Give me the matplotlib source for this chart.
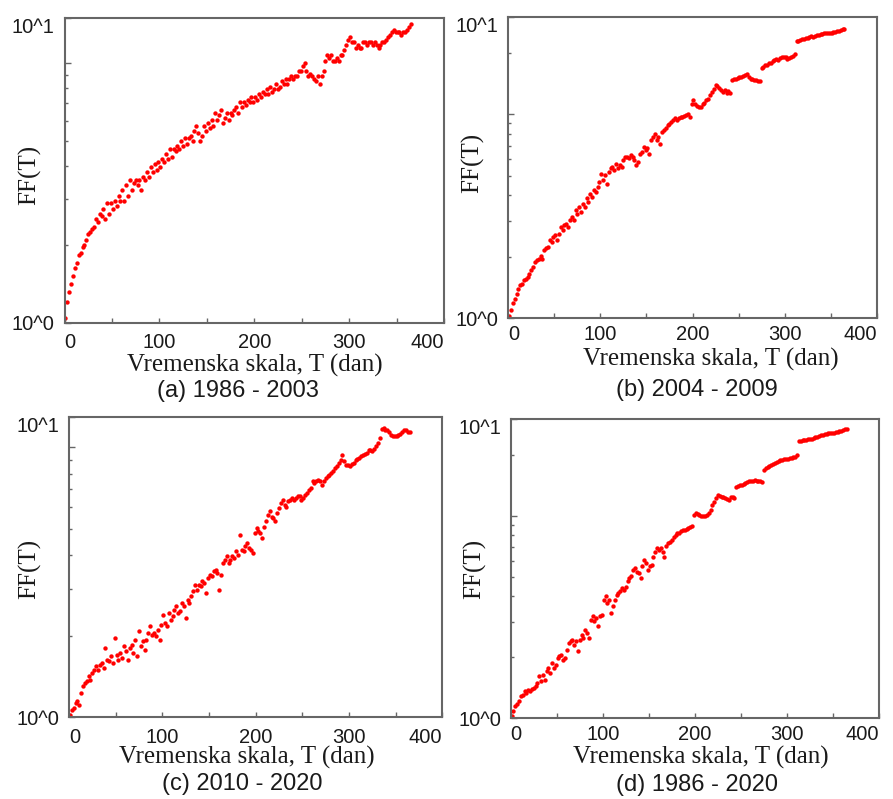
import numpy as np
import matplotlib
matplotlib.use("Agg")
import matplotlib.pyplot as plt
from matplotlib.ticker import FixedLocator, LogLocator, NullFormatter, MultipleLocator

# log10 FF(T), one value every second day (T = 1, 3, 5, ..., 365)
log_ff_a = [
    0.02, 0.08, 0.12, 0.15, 0.18, 0.21, 0.23, 0.26, 0.27, 0.29,
    0.30, 0.32, 0.34, 0.35, 0.36, 0.37, 0.40, 0.39, 0.42, 0.41,
    0.44, 0.40, 0.46, 0.42, 0.46, 0.44, 0.47, 0.45, 0.49, 0.47,
    0.51, 0.47, 0.53, 0.49, 0.55, 0.51, 0.54, 0.55, 0.53, 0.55,
    0.51, 0.56, 0.55, 0.58, 0.56, 0.60, 0.58, 0.61, 0.59, 0.62,
    0.60, 0.63, 0.62, 0.65, 0.63, 0.67, 0.64, 0.67, 0.66, 0.68,
    0.67, 0.70, 0.68, 0.71, 0.69, 0.71, 0.72, 0.70, 0.74, 0.76,
    0.73, 0.70, 0.72, 0.76, 0.74, 0.77, 0.75, 0.78, 0.76, 0.81,
    0.78, 0.80, 0.82, 0.77, 0.79, 0.81, 0.78, 0.81, 0.80, 0.82,
    0.83, 0.81, 0.85, 0.83, 0.85, 0.84, 0.86, 0.85, 0.87, 0.85,
    0.87, 0.86, 0.88, 0.87, 0.89, 0.88, 0.90, 0.88, 0.91, 0.89,
    0.90, 0.92, 0.90, 0.91, 0.93, 0.92, 0.94, 0.92, 0.94, 0.95,
    0.94, 0.95, 0.95, 0.97, 0.97, 0.99, 1.00, 0.97, 0.95, 0.96,
    0.95, 0.94, 0.93, 0.95, 0.92, 0.95, 0.97, 1.01, 1.03, 1.02,
    1.03, 1.01, 1.01, 1.02, 1.01, 1.03, 1.03, 1.05, 1.07, 1.09,
    1.10, 1.08, 1.08, 1.06, 1.07, 1.06, 1.06, 1.08, 1.08, 1.07,
    1.08, 1.08, 1.07, 1.08, 1.07, 1.06, 1.07, 1.08, 1.08, 1.09,
    1.10, 1.11, 1.12, 1.13, 1.12, 1.12, 1.12, 1.11, 1.12, 1.12,
    1.13, 1.14, 1.15,
]
log_ff_b = [
    0.010, 0.040, 0.075, 0.096, 0.121, 0.145, 0.162, 0.170, 0.186, 0.194,
    0.203, 0.219, 0.235, 0.252, 0.276, 0.284, 0.292, 0.304, 0.292, 0.333,
    0.342, 0.350, 0.382, 0.374, 0.399, 0.407, 0.382, 0.415, 0.448, 0.431,
    0.456, 0.464, 0.448, 0.480, 0.497, 0.480, 0.529, 0.513, 0.546, 0.521,
    0.562, 0.546, 0.587, 0.570, 0.611, 0.595, 0.627, 0.619, 0.644, 0.668,
    0.709, 0.676, 0.701, 0.660, 0.717, 0.734, 0.742, 0.725, 0.758, 0.734,
    0.750, 0.742, 0.775, 0.791, 0.791, 0.783, 0.799, 0.791, 0.775, 0.750,
    0.766, 0.807, 0.815, 0.840, 0.823, 0.832, 0.807, 0.873, 0.889, 0.905,
    0.873, 0.889, 0.856, 0.913, 0.922, 0.930, 0.946, 0.954, 0.962, 0.971,
    0.979, 0.971, 0.979, 0.987, 0.987, 0.990, 0.995, 1.000, 0.987, 1.052,
    1.069, 1.052, 1.039, 1.033, 1.036, 1.049, 1.056, 1.069, 1.072, 1.093,
    1.110, 1.121, 1.142, 1.137, 1.126, 1.118, 1.110, 1.118, 1.105, 1.114,
    1.101, 1.167, 1.170, 1.173, 1.175, 1.180, 1.180, 1.186, 1.193, 1.196,
    1.183, 1.173, 1.170, 1.167, 1.167, 1.163, 1.163, 1.224, 1.232, 1.240,
    1.243, 1.248, 1.252, 1.260, 1.265, 1.268, 1.265, 1.273, 1.278, 1.281,
    1.278, 1.271, 1.273, 1.278, 1.284, 1.294, 1.359, 1.359, 1.363, 1.366,
    1.368, 1.371, 1.374, 1.379, 1.382, 1.379, 1.382, 1.386, 1.389, 1.392,
    1.392, 1.395, 1.395, 1.399, 1.397, 1.399, 1.402, 1.404, 1.405, 1.408,
    1.412, 1.415, 1.415,
]
log_ff_c = [
    0.010, 0.028, 0.035, 0.053, 0.059, 0.047, 0.090, 0.115, 0.127, 0.133,
    0.152, 0.140, 0.164, 0.177, 0.189, 0.177, 0.195, 0.201, 0.183, 0.257,
    0.214, 0.207, 0.226, 0.201, 0.294, 0.232, 0.214, 0.238, 0.220, 0.263,
    0.244, 0.214, 0.257, 0.269, 0.238, 0.288, 0.226, 0.319, 0.263, 0.281,
    0.251, 0.288, 0.312, 0.337, 0.306, 0.312, 0.300, 0.325, 0.288, 0.343,
    0.380, 0.349, 0.337, 0.386, 0.362, 0.374, 0.399, 0.411, 0.386, 0.393,
    0.423, 0.411, 0.368, 0.436, 0.423, 0.448, 0.467, 0.491, 0.473, 0.491,
    0.485, 0.504, 0.498, 0.460, 0.516, 0.528, 0.522, 0.541, 0.547, 0.535,
    0.473, 0.528, 0.572, 0.584, 0.596, 0.572, 0.584, 0.596, 0.590, 0.615,
    0.602, 0.677, 0.621, 0.615, 0.633, 0.646, 0.627, 0.621, 0.609, 0.683,
    0.701, 0.689, 0.683, 0.664, 0.707, 0.726, 0.751, 0.763, 0.744, 0.738,
    0.726, 0.757, 0.775, 0.794, 0.806, 0.788, 0.781, 0.800, 0.806, 0.812,
    0.806, 0.812, 0.819, 0.819, 0.806, 0.812, 0.825, 0.831, 0.843, 0.849,
    0.874, 0.868, 0.874, 0.880, 0.874, 0.862, 0.874, 0.886, 0.893, 0.899,
    0.905, 0.911, 0.923, 0.930, 0.942, 0.954, 0.973, 0.948, 0.936, 0.936,
    0.932, 0.940, 0.942, 0.952, 0.957, 0.960, 0.967, 0.973, 0.977, 0.981,
    0.991, 0.989, 0.985, 0.994, 1.004, 1.016, 1.035, 1.068, 1.072, 1.065,
    1.063, 1.056, 1.047, 1.041, 1.041, 1.043, 1.047, 1.051, 1.056, 1.063,
    1.065, 1.059, 1.058,
]
log_ff_d = [
    0.013, 0.035, 0.059, 0.072, 0.084, 0.112, 0.117, 0.133, 0.125, 0.141,
    0.133, 0.145, 0.150, 0.161, 0.174, 0.207, 0.183, 0.215, 0.191, 0.232,
    0.248, 0.224, 0.273, 0.248, 0.265, 0.298, 0.306, 0.314, 0.289, 0.298,
    0.339, 0.372, 0.380, 0.388, 0.363, 0.380, 0.331, 0.388, 0.413, 0.396,
    0.438, 0.421, 0.396, 0.487, 0.503, 0.479, 0.495, 0.454, 0.503, 0.512,
    0.586, 0.602, 0.569, 0.586, 0.520, 0.553, 0.586, 0.610, 0.618, 0.627,
    0.643, 0.635, 0.651, 0.676, 0.692, 0.701, 0.734, 0.742, 0.725, 0.717,
    0.692, 0.750, 0.783, 0.766, 0.734, 0.750, 0.758, 0.799, 0.824, 0.840,
    0.832, 0.840, 0.824, 0.799, 0.849, 0.865, 0.873, 0.882, 0.898, 0.906,
    0.914, 0.914, 0.923, 0.928, 0.931, 0.934, 0.939, 0.944, 0.951, 1.005,
    1.016, 1.010, 1.005, 1.000, 0.997, 1.000, 1.005, 1.013, 1.030, 1.054,
    1.071, 1.087, 1.104, 1.099, 1.092, 1.095, 1.086, 1.082, 1.079, 1.092,
    1.095, 1.087, 1.141, 1.148, 1.151, 1.153, 1.158, 1.161, 1.168, 1.171,
    1.174, 1.174, 1.176, 1.174, 1.174, 1.171, 1.168, 1.227, 1.235, 1.243,
    1.247, 1.252, 1.257, 1.260, 1.268, 1.273, 1.276, 1.276, 1.280, 1.280,
    1.283, 1.285, 1.285, 1.289, 1.293, 1.301, 1.368, 1.372, 1.373, 1.375,
    1.377, 1.378, 1.380, 1.382, 1.383, 1.388, 1.391, 1.395, 1.398, 1.400,
    1.403, 1.405, 1.408, 1.410, 1.411, 1.411, 1.414, 1.416, 1.418, 1.421,
    1.424, 1.428, 1.429,
]

captions = ["(a) 1986 - 2003", "(b) 2004 - 2009", "(c) 2010 - 2020", "(d) 1986 - 2020"]
y_tops = [14.9, 30.0, 13.0, 30.0]
x_ticks = [0, 100, 200, 300, 400]

W, H = 893, 799
# pixel boxes: (left, top, right, bottom), then label anchors
layouts = [
    dict(box=(64.5, 18.3, 444, 322.7), pad=7.5,
         xlab=(255, 365), cap=(238, 391), ylab=(30, 175)),
    dict(box=(508.3, 16.7, 876.7, 318.3), pad=4.5,
         xlab=(711, 359), cap=(697, 390), ylab=(473, 163)),
    dict(box=(69, 416.7, 442.3, 717.3), pad=7.5,
         xlab=(247, 757), cap=(242, 784), ylab=(30, 569)),
    dict(box=(510.7, 419.3, 879, 718.3), pad=4.5,
         xlab=(701, 757), cap=(697, 785), ylab=(475, 569)),
]

serif = "Liberation Serif"
sans = "Liberation Sans"
axis_gray = "#666666"
text_color = "#1a1a1a"

fig = plt.figure(figsize=(W / 100, H / 100), dpi=100)


def draw_panel(vals, top, caption, lay):
    l, t, r, b = lay["box"]
    ax = fig.add_axes([l / W, 1 - b / H, (r - l) / W, (b - t) / H])
    days = 1 + 2 * np.arange(len(vals))
    ax.scatter(days, 10 ** np.array(vals), s=10, c="#ff0000", linewidths=0)

    ax.set_yscale("log")
    ax.set_xlim(0, 400)
    ax.set_ylim(1, top)

    ax.xaxis.set_major_locator(FixedLocator(x_ticks))
    ax.xaxis.set_minor_locator(MultipleLocator(50))
    ax.set_xticklabels([str(v) for v in x_ticks], fontfamily=sans, fontsize=14.5)
    xl = ax.get_xticklabels()
    xl[0].set_ha("left")
    xl[-1].set_ha("right")

    ax.yaxis.set_major_locator(FixedLocator([1, 10, top]))
    ax.yaxis.set_minor_locator(LogLocator(base=10, subs=np.arange(2, 10)))
    ax.yaxis.set_minor_formatter(NullFormatter())
    ax.set_yticklabels(["10^0", "", "10^1"], fontfamily=sans, fontsize=14.5)
    ax.get_yticklabels()[2].set_va("top")

    ax.tick_params(which="both", direction="in", color=axis_gray, width=1,
                   labelcolor=text_color, top=False, right=False)
    ax.tick_params(axis="x", which="both", length=3.6, pad=lay["pad"])
    ax.tick_params(axis="y", which="major", length=4.2, pad=7)
    ax.tick_params(axis="y", which="minor", length=2.4)
    for sp in ax.spines.values():
        sp.set_color(axis_gray)
        sp.set_linewidth(1.5)

    fig.text(lay["xlab"][0] / W, 1 - lay["xlab"][1] / H, "Vremenska skala, T (dan)",
             family=serif, fontsize=18, ha="center", va="center", color=text_color)
    fig.text(lay["cap"][0] / W, 1 - lay["cap"][1] / H, caption,
             family=sans, fontsize=17, ha="center", va="center", color=text_color)
    fig.text(lay["ylab"][0] / W, 1 - lay["ylab"][1] / H, "FF(T)", rotation=90,
             family=serif, fontsize=18, ha="center", va="center", color=text_color)
    return ax


for vals, top, cap, lay in zip([log_ff_a, log_ff_b, log_ff_c, log_ff_d], y_tops, captions, layouts):
    draw_panel(vals, top, cap, lay)

fig.savefig("out.png", dpi=100)
